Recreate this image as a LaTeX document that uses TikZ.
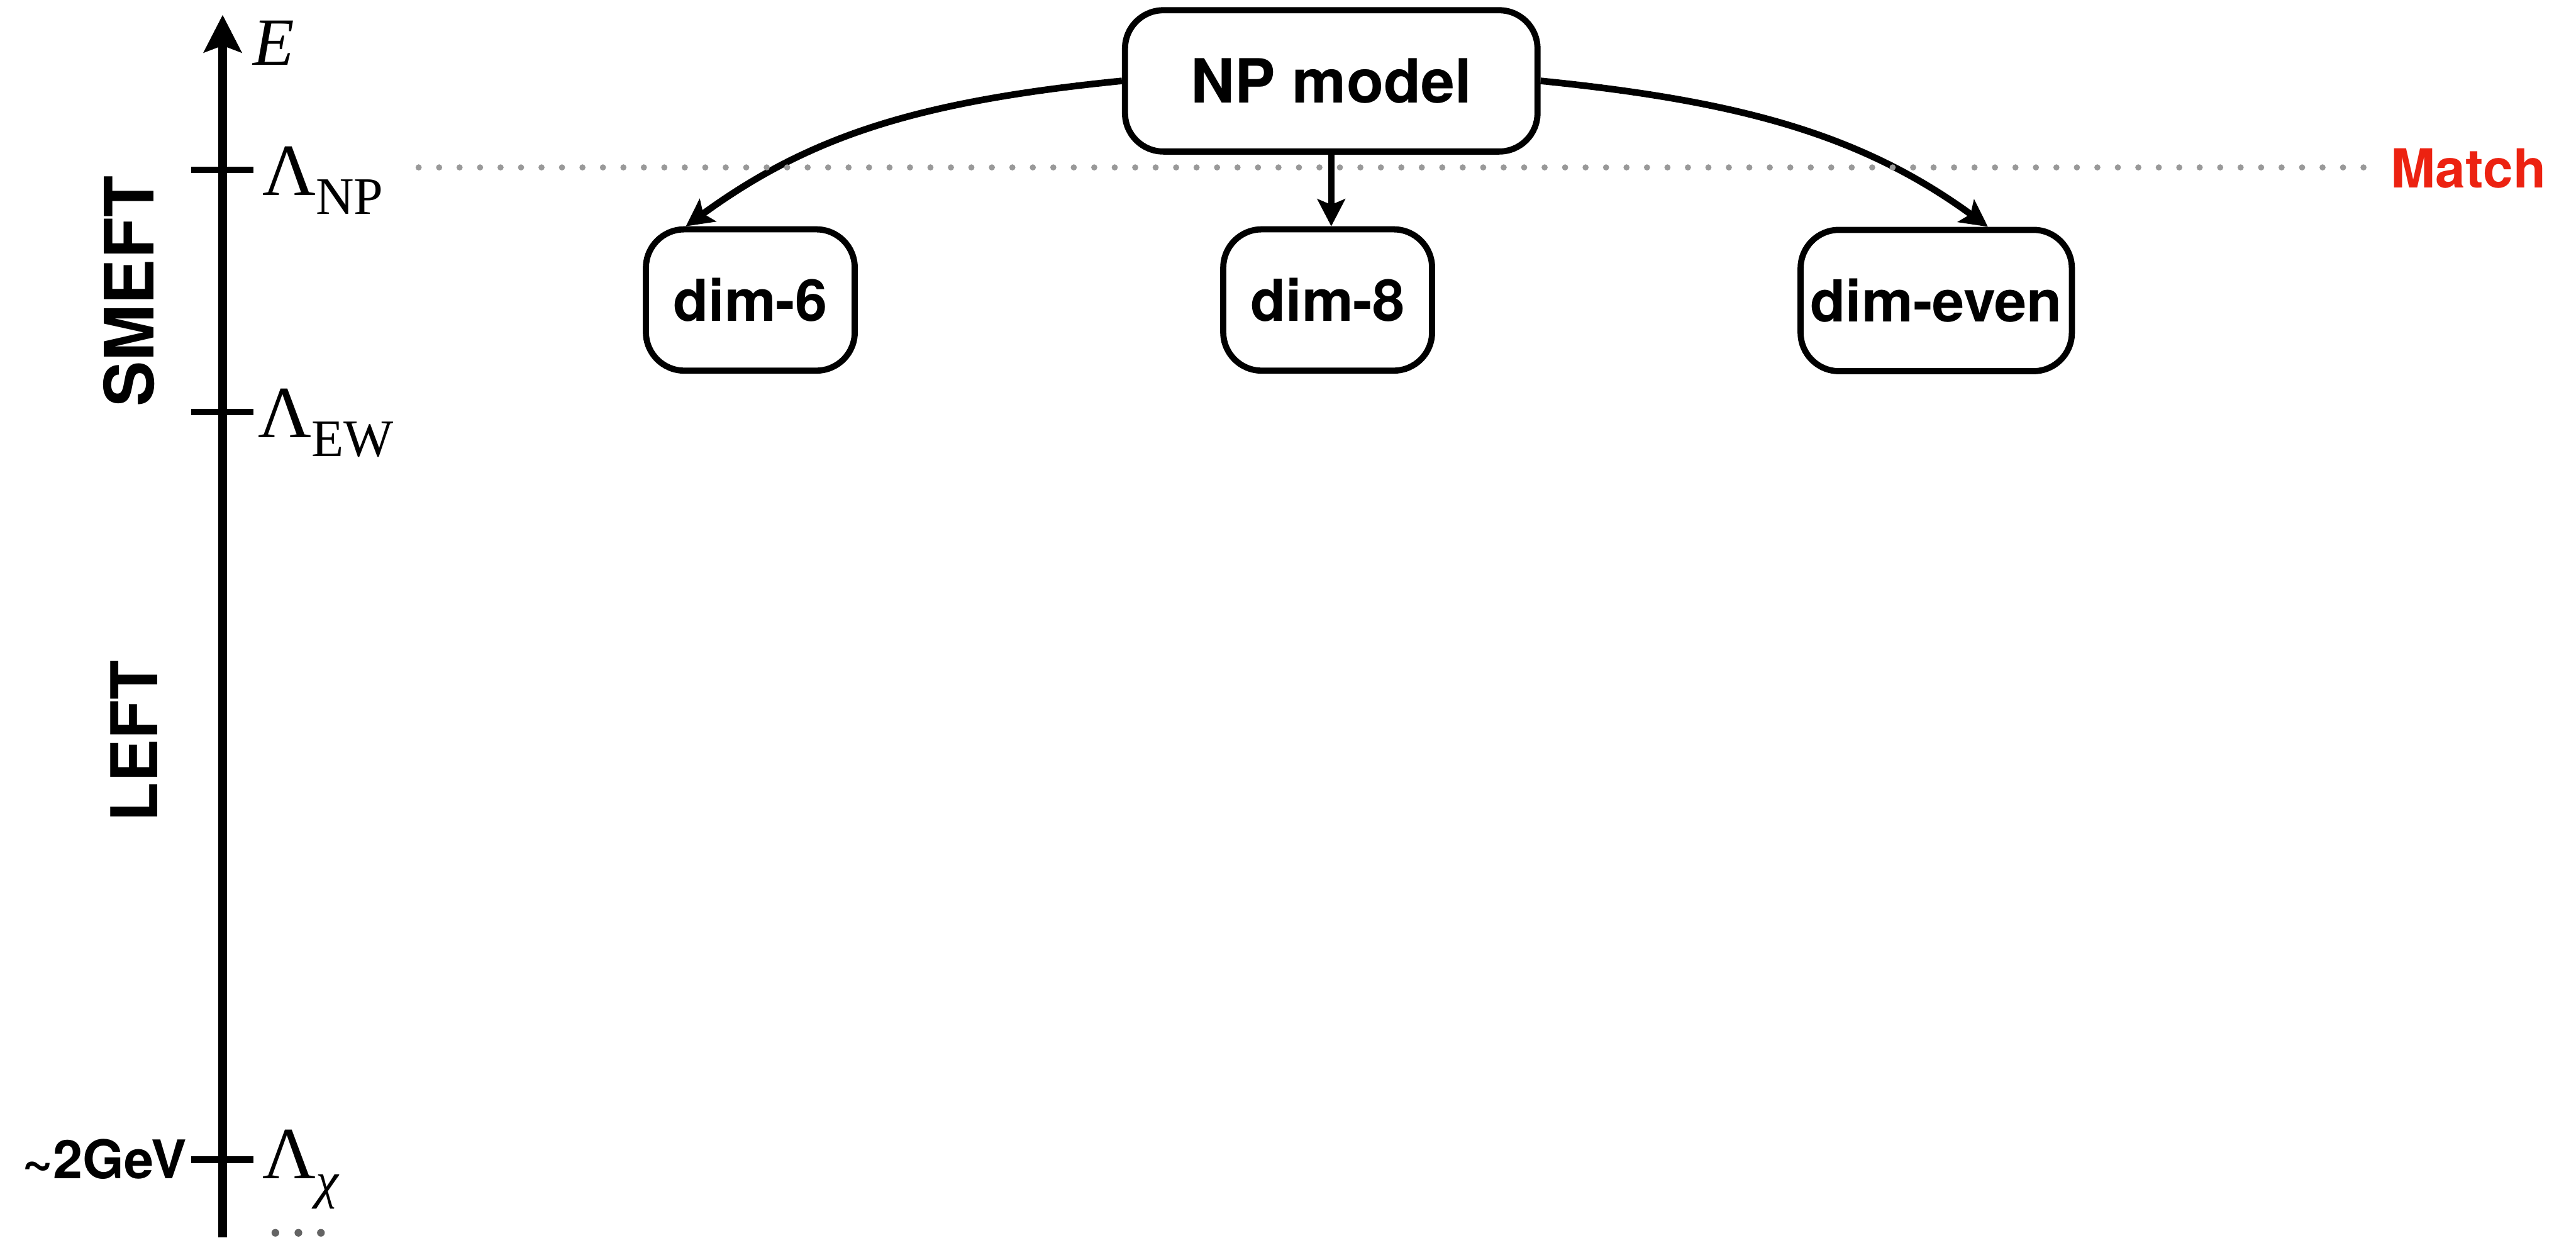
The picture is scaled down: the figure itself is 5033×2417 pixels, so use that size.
\documentclass[tikz,border=0pt]{standalone}
\usepackage{fontspec}
\usetikzlibrary{arrows.meta}
\newfontfamily\hv{TeX Gyre Heros}
\newfontfamily\tms{Liberation Serif}
\definecolor{matchred}{RGB}{236,34,17}
\definecolor{dotgray}{RGB}{153,153,153}
\definecolor{darkdot}{RGB}{100,100,100}
\newcommand\fsz[1]{\fontsize{#1pt}{#1pt}\selectfont}
\begin{document}
\begin{tikzpicture}[x=0.1pt,y=-0.1pt,
  box/.style={draw, line width=1.2pt, rounded corners=7.5pt, fill=white,
    minimum height=27.6pt, inner sep=0pt, font=\hv\bfseries\fsz{11.3}},
  conn/.style={line width=1.3pt, -{Stealth[length=5.3pt,width=5.4pt,inset=1.1pt]}},
  tickmark/.style={line width=1.3pt},
  lbl/.style={inner sep=0pt, anchor=base west},
  vlabel/.style={rotate=90, inner sep=0pt},
]
\useasboundingbox[fill=white] (0,0) rectangle (5033,2417);

% energy axis
\coordinate (axbot) at (435,2417);
\coordinate (axtop) at (435,29);
\draw[line width=1.8pt, -{Stealth[length=7.3pt,width=7.3pt,inset=1.3pt]}] (axbot) -- (axtop);

% ticks
\coordinate (tNP) at (435,332);
\coordinate (tEW) at (435,805);
\coordinate (tCH) at (435,2265);
\foreach \t in {tNP,tEW,tCH}
  \draw[tickmark] ([xshift=-6.1pt]\t) -- ([xshift=6pt]\t);

% axis labels
\node[lbl] (E) at (492,127) {\tms\itshape\fsz{13.2}E};
\node[lbl] (lnp) at (511,381) {\tms\fsz{14.4}Λ\raisebox{-3.7pt}{\fsz{10.3}NP}};
\node[lbl] (lew) at (502,854) {\tms\fsz{14.4}Λ\raisebox{-3.7pt}{\fsz{10.3}EW}};
\node[lbl] (lch) at (511,2302) {\tms\fsz{14.4}Λ\raisebox{-3.8pt}{\itshape\fsz{10}χ}};
\node[inner sep=0pt, anchor=base east, font=\hv\bfseries\fsz{10.4}] (gev) at (367,2302) {\textasciitilde 2GeV};

\node[vlabel, font=\hv\bfseries\fsz{13.3}] (smeft) at (252,569) {SMEFT};
\node[vlabel, font=\hv\bfseries\fsz{12.6}] (left) at (262,1448) {LEFT};

\foreach \x in {538,583,627}
  \fill[darkdot] (\x,2408) circle[radius=0.75pt];

% boxes
\node[box, font=\hv\bfseries\fsz{11.9}, minimum width=80.6pt] (np) at (2601,158) {NP model};
\node[box, minimum width=40.8pt] (d6) at (1466,586) {dim-6};
\node[box, minimum width=40.8pt] (d8) at (2594,586) {dim-8};
\node[box, minimum width=53pt] (de) at (3783,587) {dim-even};

% connectors
\draw[conn] (np.west) .. controls +(-398,40) and +(243,-177) .. ([xshift=-12.6pt]d6.north);
\draw[conn] (np.south) -- (np.south |- d8.north);
\draw[conn] (np.east) .. controls +(398,40) and +(-243,-177) .. ([xshift=10.1pt]de.north);

% matching line
\coordinate (dl) at (818,327);
\coordinate (dr) at (4619,327);
\draw[dotgray, line width=1.2pt, line cap=round, dash pattern=on 0pt off 4pt] (dl) -- (dr);
\node[lbl, font=\hv\bfseries\fsz{10.5}, text=matchred] (match) at (4669,367) {Match};
\end{tikzpicture}
\end{document}
